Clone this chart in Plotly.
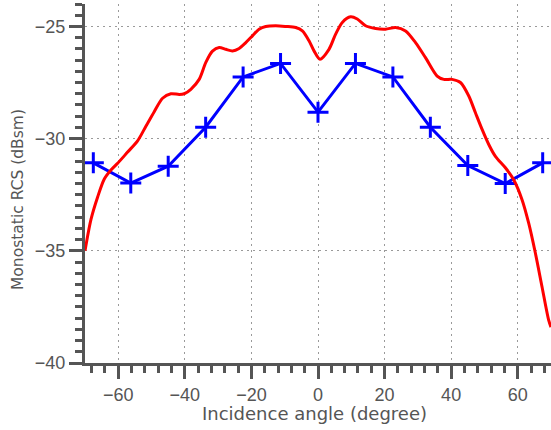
import plotly.graph_objects as go

# Measured (blue, markers)
meas_x = [-67.5, -56.25, -45, -33.75, -22.5, -11.25, 0, 11.25, 22.5, 33.75, 45, 56.25, 67.5]
meas_y = [-31.08, -31.98, -31.23, -29.49, -27.25, -26.65, -28.82, -26.65, -27.25, -29.49, -31.2, -32.0, -31.08]

# Simulated (red, smooth)
sim_x = [-70, -68.2, -66.2, -64.2, -62.2, -60.2, -57.2, -54.2, -51.7, -49.2, -46.7, -44.2, -41.7,
         -40.2, -38.2, -35.7, -33.7, -31.7, -29.7, -27.7, -25.7, -23.7, -21.7, -19.7, -17.7, -15.7,
         -12.7, -9.7, -6.7, -4.7, -2.7, -1.2, 0.6, 3.3, 5.3, 7.3, 9.8, 11.8, 14.3, 17.3, 20.3, 23.3,
         26.3, 29.3, 32.3, 35.8, 37.8, 40.3, 42.8, 45.3, 47.3, 49.3, 51.3, 53.3, 56.3, 58.8, 61.3,
         63.3, 65.3, 67.3, 69.3, 70]
sim_y = [-35.0, -33.6, -32.6, -31.8, -31.4, -31.1, -30.6, -30.1, -29.45, -28.8, -28.2, -28.0, -28.03,
         -28.0, -27.8, -27.36, -26.6, -26.1, -25.94, -26.02, -26.09, -25.98, -25.72, -25.42, -25.12, -25.0,
         -24.97, -25.0, -25.05, -25.2, -25.64, -26.09, -26.46, -26.02, -25.34, -24.82, -24.57, -24.67, -24.97, -25.09, -25.12, -25.05,
         -25.2, -25.72, -26.39, -27.21, -27.36, -27.36, -27.5, -28.1, -28.85, -29.59, -30.26, -30.79, -31.3, -31.83, -32.72,
         -33.77, -35.1, -36.6, -38.09, -38.4]

x_title = "Incidence angle (degree)"
y_title = "Monostatic RCS (dBsm)"

axis_col = "#555555"
text_col = "#555555"
grid_col = "#9a9a9a"

fig = go.Figure()
fig.add_trace(go.Scatter(
    x=meas_x, y=meas_y, mode="lines+markers",
    line=dict(color="#0000ff", width=3),
    marker=dict(symbol="cross-thin", size=15, line=dict(color="#0000ff", width=3)),
    showlegend=False,
))
fig.add_trace(go.Scatter(
    x=sim_x, y=sim_y, mode="lines",
    line=dict(color="#ff0000", width=3, shape="spline", smoothing=0.8),
    showlegend=False,
))

tickfont = dict(family="Liberation Sans", size=18, color=text_col)

fig.update_xaxes(
    range=[-70, 70], tick0=0, dtick=20, showline=True, linecolor=axis_col, linewidth=3,
    ticks="outside", ticklen=13, tickwidth=2.5, tickcolor=axis_col, tickfont=tickfont,
    showgrid=True, gridcolor=grid_col, gridwidth=1, griddash="2px,4px", zeroline=False,
    minor=dict(dtick=4, tick0=0, ticks="outside", ticklen=7, tickwidth=2.5, tickcolor=axis_col, showgrid=False),
    automargin=False,
)
fig.update_yaxes(
    range=[-40, -24], tick0=0, dtick=5, showline=True, linecolor=axis_col, linewidth=3,
    ticks="outside", ticklen=13, tickwidth=2.5, tickcolor=axis_col, tickfont=tickfont,
    showgrid=True, gridcolor=grid_col, gridwidth=1, griddash="2px,4px", zeroline=False,
    minor=dict(dtick=0.5, tick0=0, ticks="outside", ticklen=7, tickwidth=2.5, tickcolor=axis_col, showgrid=False),
    automargin=False,
)

L, R, T, B = 85, 0, 4, 67
W, H = 551, 430
pw, ph = W - L - R, H - T - B

fig.add_annotation(
    text=x_title, xref="paper", yref="paper",
    x=(314 - L) / pw, y=(H - B - 413) / ph, xanchor="center", yanchor="middle",
    showarrow=False, font=dict(family="DejaVu Sans", size=18, color=text_col),
)
fig.add_annotation(
    text=y_title, xref="paper", yref="paper", textangle=-90,
    x=(18 - L) / pw, y=(H - B - 200) / ph, xanchor="center", yanchor="middle",
    showarrow=False, font=dict(family="DejaVu Sans", size=15.5, color=text_col),
)

fig.update_layout(
    width=W, height=H, margin=dict(l=L, r=R, t=T, b=B),
    paper_bgcolor="white", plot_bgcolor="white",
)

fig.write_html("out.html")
